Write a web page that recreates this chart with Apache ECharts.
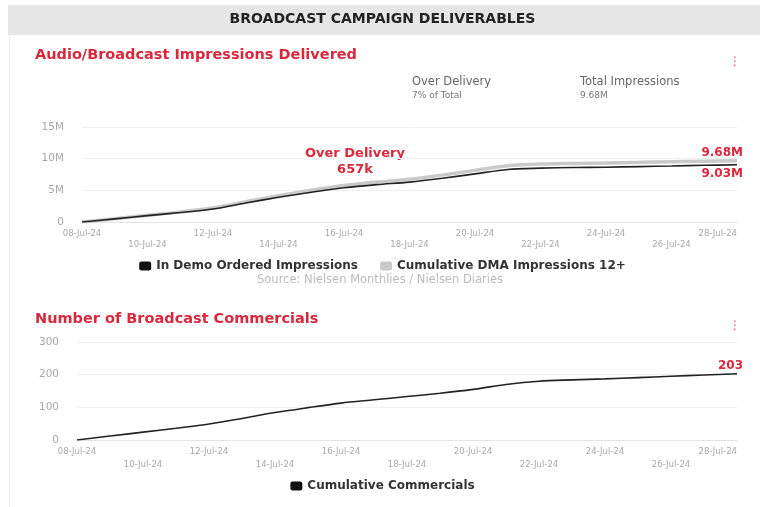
<!DOCTYPE html>
<html>
<head>
<meta charset="utf-8">
<script src="https://cdn.jsdelivr.net/npm/echarts@6/dist/echarts.min.js"></script>
<style>
  html, body { margin: 0; padding: 0; background: #fff; }
  #chart { width: 765px; height: 507px; }
</style>
</head>
<body>
<div id="chart"></div>
<script>
// dates shared by both panels
const days = [
  "08-Jul-24", "09-Jul-24", "10-Jul-24", "11-Jul-24", "12-Jul-24", "13-Jul-24", "14-Jul-24",
  "15-Jul-24", "16-Jul-24", "17-Jul-24", "18-Jul-24", "19-Jul-24", "20-Jul-24", "21-Jul-24",
  "22-Jul-24", "23-Jul-24", "24-Jul-24", "25-Jul-24", "26-Jul-24", "27-Jul-24", "28-Jul-24",
];

// impressions, in millions
const orderedImpressions = [
  0, 0.5, 1.0, 1.5, 2.05, 3.0, 3.9, 4.7, 5.4, 5.9, 6.3,
  6.9, 7.6, 8.3, 8.5, 8.6, 8.65, 8.75, 8.85, 8.95, 9.03,
];
const dmaImpressions = [
  0, 0.52, 1.05, 1.6, 2.2, 3.2, 4.15, 5.0, 5.75, 6.3, 6.75,
  7.4, 8.15, 8.9, 9.15, 9.25, 9.33, 9.42, 9.52, 9.6, 9.68,
];

// cumulative commercial count
const commercials = [
  0, 12, 24, 36, 49, 66, 84, 99, 113, 123, 133,
  143, 155, 170, 180, 184, 187, 191, 195, 199, 203,
];

const impressionTicks = [0, 5, 10, 15];
const commercialTicks = [0, 100, 200, 300];

const overDeliveryText = "657k";
const overDeliveryPct = "7% of Total";
const totalImpressionsText = "9.68M";

const red = "#d8283c";
const font = "'DejaVu Sans', sans-serif";

const chart = echarts.init(document.getElementById("chart"));

function endLabel(fmt, below) {
  return {
    show: true,
    distance: 0,
    align: "right",
    verticalAlign: below ? "top" : "bottom",
    offset: below ? [6, 3] : [6, -2],
    color: red,
    fontFamily: font,
    fontWeight: 700,
    fontSize: 12,
    formatter: (p) => fmt(p.value),
  };
}

function xAxisFor(gridIndex, lineHeight) {
  return {
    type: "category",
    gridIndex,
    data: days,
    boundaryGap: false,
    axisLine: { lineStyle: { color: "#e4e4e4" } },
    axisTick: { show: false },
    axisLabel: {
      interval: 1,
      color: "#a8a8a8",
      fontFamily: font,
      fontSize: 8.5,
      lineHeight,
      margin: 6,
      alignMaxLabel: "right",
      formatter: (value, index) => (index % 4 === 2 ? "\n" + value : value),
    },
    splitLine: { show: false },
  };
}

function yAxisFor(gridIndex, ticks, fmt) {
  return {
    type: "value",
    gridIndex,
    min: ticks[0],
    max: ticks[ticks.length - 1],
    interval: ticks[1] - ticks[0],
    axisLine: { show: false },
    axisTick: { show: false },
    axisLabel: { color: "#a8a8a8", fontFamily: font, fontSize: 10.5, margin: 18, formatter: fmt },
    splitLine: { lineStyle: { color: "#f0f0f0" } },
  };
}

const legendText = { color: "#333", fontFamily: font, fontWeight: 700, fontSize: 12 };

chart.setOption({
  backgroundColor: "#fff",
  animation: false,
  grid: [
    { left: 82, right: 28, top: 127, bottom: 285 },
    { left: 77, right: 28, top: 342, bottom: 67 },
  ],
  xAxis: [xAxisFor(0, 11), xAxisFor(1, 12.5)],
  yAxis: [
    yAxisFor(0, impressionTicks, (v) => (v === 0 ? "0" : v + "M")),
    yAxisFor(1, commercialTicks, (v) => String(v)),
  ],
  legend: [
    {
      data: ["In Demo Ordered Impressions", "Cumulative DMA Impressions 12+"],
      top: 255,
      left: "center",
      itemWidth: 12,
      itemHeight: 9,
      itemGap: 22,
      icon: "roundRect",
      textStyle: legendText,
    },
    {
      data: ["Cumulative Commercials"],
      top: 475,
      left: "center",
      itemWidth: 12,
      itemHeight: 9,
      icon: "roundRect",
      textStyle: legendText,
    },
  ],
  series: [
    {
      name: "Cumulative DMA Impressions 12+",
      type: "line",
      xAxisIndex: 0,
      yAxisIndex: 0,
      data: dmaImpressions,
      smooth: 0.3,
      showSymbol: false,
      lineStyle: { color: "#c9c9c9", width: 3.5 },
      itemStyle: { color: "#c9c9c9" },
      endLabel: endLabel((v) => v.toFixed(2) + "M", false),
    },
    {
      name: "In Demo Ordered Impressions",
      type: "line",
      xAxisIndex: 0,
      yAxisIndex: 0,
      data: orderedImpressions,
      smooth: 0.3,
      showSymbol: false,
      lineStyle: { color: "#222", width: 1.6 },
      itemStyle: { color: "#111" },
      endLabel: endLabel((v) => v.toFixed(2) + "M", true),
    },
    {
      name: "Cumulative Commercials",
      type: "line",
      xAxisIndex: 1,
      yAxisIndex: 1,
      data: commercials,
      smooth: 0.3,
      showSymbol: false,
      lineStyle: { color: "#222", width: 1.6 },
      itemStyle: { color: "#111" },
      endLabel: endLabel((v) => String(v), false),
    },
  ],
  graphic: [
    // header band
    { type: "rect", left: 8, top: 5, shape: { width: 752, height: 30 }, style: { fill: "#e6e6e6" }, silent: true },
    {
      type: "text", left: "center", top: 12,
      style: { text: "BROADCAST CAMPAIGN DELIVERABLES", fill: "#222", font: "700 14px " + font },
    },
    // card left edge
    { type: "rect", left: 9, top: 35, shape: { width: 1, height: 472 }, style: { fill: "#ececec" }, silent: true },
    // panel titles
    {
      type: "text", left: 35, top: 48,
      style: { text: "Audio/Broadcast Impressions Delivered", fill: red, font: "700 14.5px " + font },
    },
    {
      type: "text", left: 35, top: 312,
      style: { text: "Number of Broadcast Commercials", fill: red, font: "700 14.5px " + font },
    },
    // menu dots
    { type: "text", left: 729, top: 56, style: { text: "\u22ee", fill: red, font: "12px " + font, opacity: 0.8 } },
    { type: "text", left: 729, top: 320, style: { text: "\u22ee", fill: red, font: "12px " + font, opacity: 0.8 } },
    // KPI boxes
    { type: "text", left: 412, top: 76, style: { text: "Over Delivery", fill: "#666", font: "11.5px " + font } },
    { type: "text", left: 412, top: 91, style: { text: overDeliveryPct, fill: "#777", font: "9px " + font } },
    { type: "text", left: 580, top: 76, style: { text: "Total Impressions", fill: "#666", font: "11.5px " + font } },
    { type: "text", left: 580, top: 91, style: { text: totalImpressionsText, fill: "#777", font: "9px " + font } },
    // over delivery annotation
    {
      type: "text", x: 355, y: 146,
      style: {
        text: "Over Delivery\n" + overDeliveryText, fill: red, align: "center",
        font: "700 13px " + font, lineHeight: 16,
      },
    },
    // source
    {
      type: "text", x: 380, y: 274,
      style: { text: "Source: Nielsen Monthlies / Nielsen Diaries", fill: "#bbb", align: "center", font: "11.5px " + font },
    },
  ],
});
</script>
</body>
</html>
